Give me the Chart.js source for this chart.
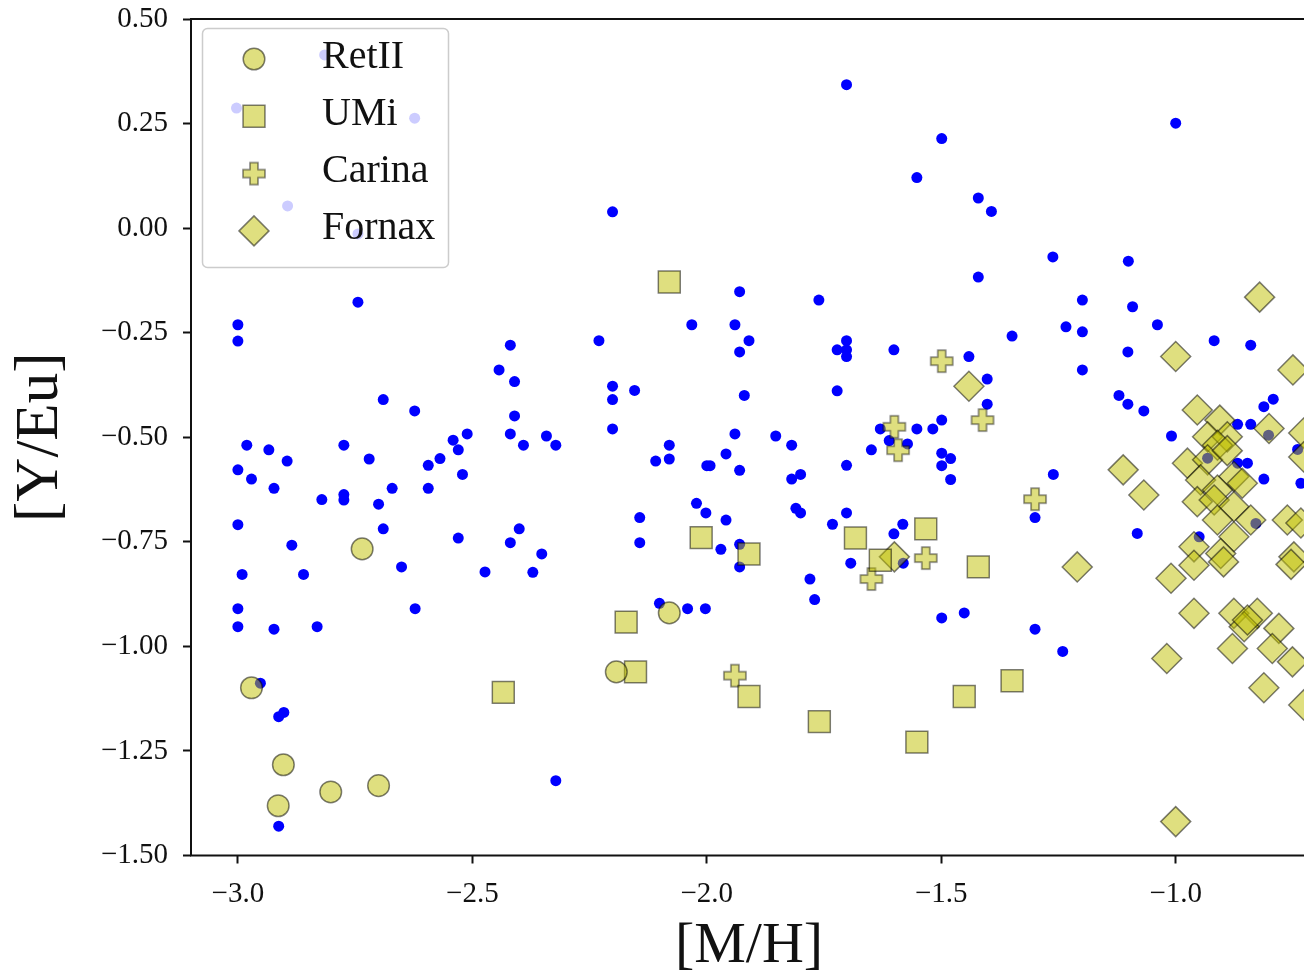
<!DOCTYPE html>
<html>
<head>
<meta charset="utf-8">
<script src="https://cdn.jsdelivr.net/npm/chart.js@4.4.0/dist/chart.umd.min.js"></script>
<style>
html, body { margin: 0; padding: 0; overflow: hidden; background: #fff; }
#graph { position: absolute; left: 0; top: 0; }
</style>
</head>
<body>
<canvas id="graph" width="1324" height="1000"></canvas>
<script>
// field stars (blue dots)
var fieldX = [-2.815, -3.003, -2.623, -2.894, -2.744, -2.744, -3.0, -3.0, -2.690, -2.623,
  -2.981, -2.934, -2.895, -2.774, -2.720, -2.511, -2.541, -2.530, -2.569, -2.594,
  -2.521, -3.0, -2.971, -2.923, -2.671, -2.594, -2.821, -2.774, -2.774, -2.700,
  -3.0, -2.690, -2.530, -2.885, -2.651, -2.991, -2.860, -2.473, -3.0, -2.622,
  -3.0, -2.923, -2.831, -2.952, -2.913, -2.902, -2.913, -2.201, -1.930, -2.419,
  -2.443, -2.410, -2.230, -2.032, -1.940, -1.910, -1.930, -1.920, -2.201, -2.201,
  -2.154, -2.410, -2.419, -2.391, -2.342, -2.322, -2.201, -1.940, -1.853, -2.080,
  -2.109, -2.080, -2.000, -1.993, -1.959, -1.930, -2.022, -2.002, -1.959, -2.143,
  -2.143, -2.400, -2.419, -2.352, -2.371, -1.970, -1.930, -1.930, -2.101, -2.041,
  -2.003, -2.322, -1.702, -1.499, -1.552, -1.421, -1.393, -1.262, -1.421, -1.761,
  -1.702, -1.722, -1.702, -1.702, -1.601, -1.349, -1.234, -1.441, -1.402, -1.402,
  -1.722, -1.819, -1.630, -1.552, -1.518, -1.499, -1.611, -1.572, -1.649, -1.702,
  -1.499, -1.480, -1.499, -1.480, -1.819, -1.800, -1.261, -1.300, -1.810, -1.800,
  -1.702, -1.732, -1.582, -1.601, -1.693, -1.581, -1.780, -1.770, -1.499, -1.451,
  -1.300, -1.241, -1.000, -1.101, -1.199, -1.092, -1.199, -1.039, -1.102, -1.199,
  -0.918, -0.840, -1.121, -1.102, -1.068, -0.792, -0.812, -1.009, -0.868, -0.840,
  -0.868, -0.847, -0.812, -0.740, -0.932, -1.082, -0.950, -0.829, -0.733, -0.802]
var fieldY = [0.414, 0.287, 0.263, 0.053, -0.014, -0.177, -0.231, -0.270, -0.410, -0.437,
  -0.519, -0.530, -0.557, -0.519, -0.552, -0.492, -0.507, -0.530, -0.551, -0.567,
  -0.589, -0.578, -0.600, -0.622, -0.622, -0.622, -0.649, -0.637, -0.650, -0.660,
  -0.709, -0.719, -0.741, -0.758, -0.810, -0.828, -0.828, -0.822, -0.910, -0.910,
  -0.953, -0.959, -0.953, -1.088, -1.168, -1.158, -1.430, 0.039, -0.152, -0.280,
  -0.339, -0.367, -0.269, -0.231, -0.231, -0.269, -0.296, -0.400, -0.378, -0.410,
  -0.388, -0.449, -0.492, -0.519, -0.497, -0.519, -0.480, -0.492, -0.497, -0.519,
  -0.557, -0.552, -0.568, -0.568, -0.540, -0.579, -0.658, -0.681, -0.698, -0.692,
  -0.752, -0.719, -0.752, -0.779, -0.823, -0.768, -0.756, -0.810, -0.897, -0.910,
  -0.910, -1.321, 0.343, 0.214, 0.121, 0.072, 0.040, -0.069, -0.117, -0.172,
  -0.269, -0.291, -0.291, -0.307, -0.291, -0.258, -0.236, -0.307, -0.361, -0.421,
  -0.389, -0.519, -0.480, -0.480, -0.480, -0.459, -0.508, -0.516, -0.530, -0.567,
  -0.538, -0.551, -0.568, -0.601, -0.600, -0.589, -0.589, -0.692, -0.670, -0.681,
  -0.681, -0.708, -0.708, -0.731, -0.801, -0.801, -0.839, -0.888, -0.932, -0.920,
  -0.959, -1.012, 0.251, -0.079, -0.172, -0.188, -0.248, -0.231, -0.296, -0.339,
  -0.269, -0.280, -0.400, -0.421, -0.437, -0.409, -0.427, -0.497, -0.469, -0.469,
  -0.562, -0.562, -0.600, -0.529, -0.550, -0.730, -0.738, -0.706, -0.610, -0.495]

var retX = [-2.735, -2.971, -2.903, -2.914, -2.802, -2.700, -2.080, -2.193]
var retY = [-0.767, -1.099, -1.283, -1.381, -1.348, -1.333, -0.920, -1.061]

var umiX = [-2.080, -2.012, -1.910, -2.172, -2.152, -2.434, -1.910, -1.533, -1.683, -1.630,
  -1.421, -1.451, -1.349, -1.760, -1.552]
var umiY = [-0.129, -0.740, -0.779, -0.942, -1.061, -1.110, -1.120, -0.719, -0.741, -0.794,
  -0.810, -1.120, -1.082, -1.180, -1.229]

var carX = [-1.499, -1.412, -1.600, -1.592, -1.300, -1.533, -1.649, -1.940]
var carY = [-0.318, -0.459, -0.475, -0.531, -0.648, -0.789, -0.839, -1.070]

var forX = [-1.441, -1.600, -0.821, -1.000, -0.750, -0.954, -0.906, -0.801, -0.727, -0.932,
  -0.890, -0.911, -1.112, -1.068, -0.975, -0.932, -0.876, -0.858, -0.947, -0.911,
  -0.954, -0.918, -0.876, -0.911, -0.840, -0.762, -0.733, -0.876, -0.961, -0.904,
  -0.748, -1.210, -1.010, -0.961, -0.898, -0.754, -0.961, -0.876, -0.826, -0.854,
  -0.780, -0.879, -0.794, -0.751, -1.019, -0.812, -0.727, -1.000, -0.890, -0.847, -0.727]
var forY = [-0.378, -0.786, -0.165, -0.307, -0.339, -0.435, -0.459, -0.479, -0.490, -0.499,
  -0.499, -0.519, -0.578, -0.638, -0.562, -0.554, -0.594, -0.610, -0.602, -0.626,
  -0.654, -0.650, -0.666, -0.698, -0.698, -0.698, -0.705, -0.738, -0.762, -0.778,
  -0.786, -0.810, -0.837, -0.806, -0.798, -0.804, -0.921, -0.921, -0.921, -0.953,
  -0.957, -1.005, -1.005, -1.037, -1.029, -1.099, -1.140, -1.419, -0.532, -0.937, -0.547]

var xTicks = [-3.0, -2.5, -2.0, -1.5, -1.0]
var yTicks = [0.5, 0.25, 0, -0.25, -0.5, -0.75, -1.0, -1.25, -1.5]

var fill = 'rgba(191,191,0,0.5)'
var edge = 'rgba(0,0,0,0.5)'
var serif = '"Liberation Serif", "DejaVu Serif", serif'

function pts(xs, ys) {
  return xs.map(function (x, i) { return {x: x, y: ys[i]} })
}

function fmt(v, d) {
  return (v < 0 ? '\u2212' : '') + Math.abs(v).toFixed(d)
}

// filled plus marker, like matplotlib 'P'
function makePlus() {
  var cv = document.createElement('canvas')
  cv.width = 28
  cv.height = 28
  var g = cv.getContext('2d')
  var m = 14, a = 11, t = 4
  g.beginPath()
  g.moveTo(m - t, m - a); g.lineTo(m + t, m - a); g.lineTo(m + t, m - t)
  g.lineTo(m + a, m - t); g.lineTo(m + a, m + t); g.lineTo(m + t, m + t)
  g.lineTo(m + t, m + a); g.lineTo(m - t, m + a); g.lineTo(m - t, m + t)
  g.lineTo(m - a, m + t); g.lineTo(m - a, m - t); g.lineTo(m - t, m - t)
  g.closePath()
  g.fillStyle = fill
  g.fill()
  g.strokeStyle = edge
  g.lineWidth = 1.5
  g.stroke()
  return cv
}
var plus = makePlus()

// no extra room for tick labels: the plot box is fixed
function noPad(s) {
  s.paddingLeft = 0
  s.paddingRight = 0
  s.paddingTop = 0
  s.paddingBottom = 0
}

var framePlugin = {
  id: 'frame',
  afterDatasetsDraw: function (chart) {
    var a = chart.chartArea, c = chart.ctx
    c.save()
    c.strokeStyle = '#111'
    c.lineWidth = 2
    c.strokeRect(a.left, a.top, a.right - a.left, a.bottom - a.top)
    c.restore()
  }
}

var keyPlugin = {
  id: 'keyBox',
  afterDatasetsDraw: function (chart) {
    var c = chart.ctx
    c.save()
    c.beginPath()
    c.roundRect(202.5, 28.5, 246, 239, 5)
    c.fillStyle = 'rgba(255,255,255,0.8)'
    c.fill()
    c.strokeStyle = '#cccccc'
    c.lineWidth = 1.5
    c.stroke()
    chart.data.datasets.slice(0, 4).forEach(function (ds, i) {
      var y = 59 + i * 57.3
      c.fillStyle = ds.pointBackgroundColor
      c.strokeStyle = ds.pointBorderColor
      c.lineWidth = ds.pointBorderWidth
      Chart.helpers.drawPoint(c, {pointStyle: ds.pointStyle, radius: ds.pointRadius, rotation: 0, borderWidth: ds.pointBorderWidth}, 254, y)
      c.fillStyle = '#111'
      c.font = '40px ' + serif
      c.textBaseline = 'middle'
      c.textAlign = 'left'
      c.fillText(ds.label, 322, y - 2)
    })
    c.restore()
  }
}

var ctx = document.getElementById('graph').getContext('2d')

var myChart = new Chart(ctx, {
  type: 'scatter',
  data: {
    datasets: [
      {label: 'RetII', data: pts(retX, retY), pointStyle: 'circle', pointRadius: 10.8,
        pointBackgroundColor: fill, pointBorderColor: edge, pointBorderWidth: 1.5},
      {label: 'UMi', data: pts(umiX, umiY), pointStyle: 'rect', pointRadius: 15.5,
        pointBackgroundColor: fill, pointBorderColor: edge, pointBorderWidth: 1.5},
      {label: 'Carina', data: pts(carX, carY), pointStyle: plus, pointRadius: 12,
        pointBackgroundColor: fill, pointBorderColor: edge, pointBorderWidth: 1.5},
      {label: 'Fornax', data: pts(forX, forY), pointStyle: 'rectRot', pointRadius: 15,
        pointBackgroundColor: fill, pointBorderColor: edge, pointBorderWidth: 1.5},
      {label: 'field', data: pts(fieldX, fieldY), pointStyle: 'circle', pointRadius: 5.5,
        pointBackgroundColor: '#0000ff', pointBorderWidth: 0}
    ]
  },
  options: {
    responsive: false,
    animation: false,
    devicePixelRatio: 1,
    layout: {padding: {top: 19, right: 4.3, left: 0, bottom: 0}},
    plugins: {
      legend: {display: false},
      tooltip: {enabled: false}
    },
    scales: {
      x: {
        type: 'linear',
        min: -3.1,
        max: -0.72,
        afterBuildTicks: function (s) { s.ticks = xTicks.map(function (v) { return {value: v} }) },
        afterFit: function (s) { s.height = 144.5; noPad(s) },
        border: {display: false},
        grid: {drawOnChartArea: false, drawTicks: true, tickLength: 8, tickWidth: 2, tickColor: '#111'},
        ticks: {
          font: {family: serif, size: 29},
          color: '#111',
          padding: 13,
          maxRotation: 0,
          autoSkip: false,
          callback: function (v) { return fmt(v, 1) }
        },
        title: {display: true, text: '[M/H]', color: '#111',
          font: {family: serif, size: 58, lineHeight: 1}, padding: {top: 0, bottom: 24}}
      },
      y: {
        type: 'linear',
        min: -1.5,
        max: 0.5,
        afterBuildTicks: function (s) { s.ticks = yTicks.map(function (v) { return {value: v} }) },
        afterFit: function (s) { s.width = 191; noPad(s) },
        border: {display: false},
        grid: {drawOnChartArea: false, drawTicks: true, tickLength: 8, tickWidth: 2, tickColor: '#111'},
        ticks: {
          font: {family: serif, size: 29},
          color: '#111',
          padding: 15,
          autoSkip: false,
          callback: function (v) { return fmt(v, 2) }
        },
        title: {display: true, text: '[Y/Eu]', color: '#111',
          font: {family: serif, size: 61, lineHeight: 1}, padding: {top: 10, bottom: 0}}
      }
    }
  },
  plugins: [framePlugin, keyPlugin]
})
</script>
</body>
</html>
